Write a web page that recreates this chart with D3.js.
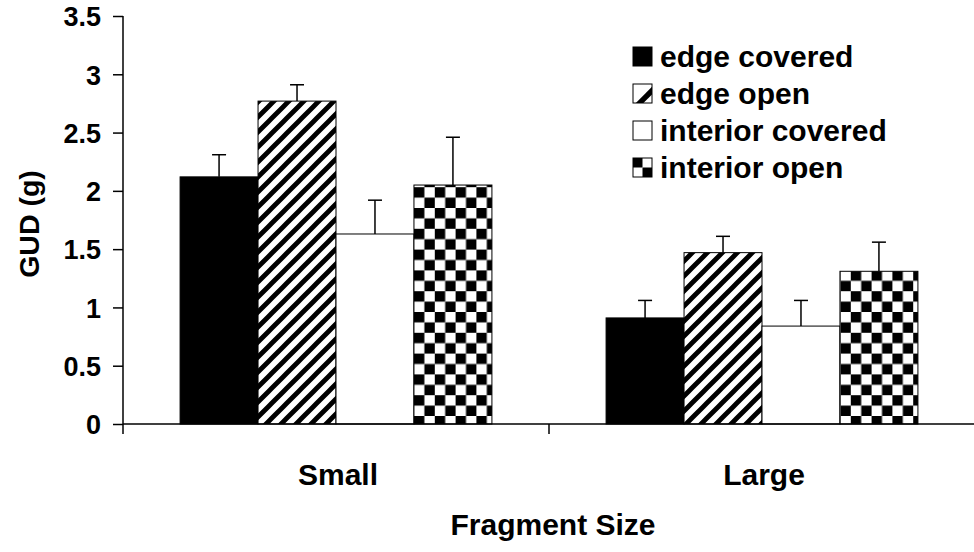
<!DOCTYPE html>
<html>
<head>
<meta charset="utf-8">
<script src="https://cdn.jsdelivr.net/npm/d3@7"></script>
<style>
  html, body { margin: 0; padding: 0; background: #fff; }
  svg { display: block; }
  text { font-family: "Liberation Sans", Arial, sans-serif; font-weight: bold; fill: #000; }
</style>
</head>
<body>
<svg id="chart" width="974" height="552"></svg>
<script>
// Giving-up density per fragment size and patch treatment
const categories = ["Small", "Large"];
const series = ["edge covered", "edge open", "interior covered", "interior open"];
const means = {
  "edge covered":     [2.12, 0.91],
  "edge open":        [2.77, 1.47],
  "interior covered": [1.63, 0.84],
  "interior open":    [2.05, 1.31]
};
const errors = {
  "edge covered":     [0.19, 0.15],
  "edge open":        [0.14, 0.14],
  "interior covered": [0.29, 0.22],
  "interior open":    [0.41, 0.25]
};
const yTicks = [0, 0.5, 1, 1.5, 2, 2.5, 3, 3.5];

const svg = d3.select("#chart");
const plotLeft = 123, plotRight = 975, plotTop = 16, plotBottom = 424;

const x0 = d3.scaleBand().domain(categories).range([plotLeft, plotRight])
  .paddingInner(0.268).paddingOuter(0.134);
const x1 = d3.scaleBand().domain(series).range([0, x0.bandwidth()]).padding(0);
const y = d3.scaleLinear().domain([0, 3.5]).range([plotBottom, plotTop]);

// Fill patterns
const defs = svg.append("defs");
const hatch = defs.append("pattern").attr("id", "hatch")
  .attr("patternUnits", "userSpaceOnUse").attr("width", 15).attr("height", 15);
hatch.append("rect").attr("width", 15).attr("height", 15).attr("fill", "#fff");
hatch.append("path").attr("d", "M-3.75,3.75 l7.5,-7.5 M0,15 l15,-15 M11.25,18.75 l7.5,-7.5")
  .attr("stroke", "#000").attr("stroke-width", 4.8);

const cell = 10.4;
const checker = defs.append("pattern").attr("id", "checker")
  .attr("patternUnits", "userSpaceOnUse").attr("width", cell * 2).attr("height", cell * 2)
  .attr("x", 414).attr("y", 0);
checker.append("rect").attr("width", cell * 2).attr("height", cell * 2).attr("fill", "#fff");
checker.append("rect").attr("width", cell).attr("height", cell).attr("fill", "#000");
checker.append("rect").attr("x", cell).attr("y", cell).attr("width", cell).attr("height", cell).attr("fill", "#000");

// Legend swatch patterns, scaled to the swatch box
const swHatch = defs.append("pattern").attr("id", "swHatch")
  .attr("patternUnits", "objectBoundingBox").attr("patternContentUnits", "objectBoundingBox")
  .attr("width", 1).attr("height", 1);
swHatch.append("rect").attr("width", 1).attr("height", 1).attr("fill", "#fff");
swHatch.append("path").attr("d", "M0.15,1 L1,0.15 L1,0.55 L0.55,1 Z").attr("fill", "#000");
const swCheck = defs.append("pattern").attr("id", "swCheck")
  .attr("patternUnits", "objectBoundingBox").attr("patternContentUnits", "objectBoundingBox")
  .attr("width", 1).attr("height", 1);
swCheck.append("rect").attr("width", 1).attr("height", 1).attr("fill", "#fff");
swCheck.append("rect").attr("width", 0.5).attr("height", 0.5).attr("fill", "#000");
swCheck.append("rect").attr("x", 0.5).attr("y", 0.5).attr("width", 0.5).attr("height", 0.5).attr("fill", "#000");

const barFill = {
  "edge covered": "#000",
  "edge open": "url(#hatch)",
  "interior covered": "#fff",
  "interior open": "url(#checker)"
};
const swatchFill = {
  "edge covered": "#000",
  "edge open": "url(#swHatch)",
  "interior covered": "#fff",
  "interior open": "url(#swCheck)"
};

// Bars
const rows = [];
categories.forEach((c, i) => series.forEach(s => rows.push({ c, s, v: means[s][i], e: errors[s][i] })));

const bars = svg.append("g");
bars.selectAll("rect").data(rows).join("rect")
  .attr("x", d => x0(d.c) + x1(d.s))
  .attr("y", d => y(d.v))
  .attr("width", x1.bandwidth())
  .attr("height", d => y(0) - y(d.v))
  .attr("fill", d => barFill[d.s])
  .attr("stroke", "#000").attr("stroke-width", 1);

// Upper error bars
const eb = svg.append("g").attr("stroke", "#000").attr("stroke-width", 1.5);
eb.selectAll("line.stem").data(rows).join("line").attr("class", "stem")
  .attr("x1", d => x0(d.c) + x1(d.s) + x1.bandwidth() / 2)
  .attr("x2", d => x0(d.c) + x1(d.s) + x1.bandwidth() / 2)
  .attr("y1", d => y(d.v)).attr("y2", d => y(d.v + d.e));
eb.selectAll("line.cap").data(rows).join("line").attr("class", "cap")
  .attr("x1", d => x0(d.c) + x1(d.s) + x1.bandwidth() / 2 - 7)
  .attr("x2", d => x0(d.c) + x1(d.s) + x1.bandwidth() / 2 + 7)
  .attr("y1", d => y(d.v + d.e)).attr("y2", d => y(d.v + d.e));

// Y axis
const yAxis = svg.append("g").attr("transform", `translate(${plotLeft},0)`)
  .call(d3.axisLeft(y).tickValues(yTicks).tickSize(10).tickPadding(12).tickFormat(d3.format("")));
yAxis.select(".domain").attr("stroke-width", 1.5).attr("d", `M0,${plotTop}H0V${plotBottom}`);
yAxis.selectAll(".tick line").attr("stroke-width", 1.5);
yAxis.selectAll(".tick text").attr("font-size", 27).attr("dy", "0.36em")
  .attr("font-family", "Liberation Sans, Arial, sans-serif").attr("font-weight", "bold");

// X axis: category boundaries marked with ticks
const xAxis = svg.append("g").attr("transform", `translate(0,${plotBottom})`);
xAxis.append("line").attr("x1", plotLeft).attr("x2", plotRight).attr("y1", 0).attr("y2", 0)
  .attr("stroke", "#000").attr("stroke-width", 1.5);
const bounds = [plotLeft, ...categories.slice(1).map(c => x0(c) - x0.step() * x0.paddingInner() / 2), plotRight];
xAxis.selectAll("line.bt").data(bounds).join("line").attr("class", "bt")
  .attr("x1", d => d).attr("x2", d => d).attr("y1", 0).attr("y2", 10)
  .attr("stroke", "#000").attr("stroke-width", 1.5);
xAxis.selectAll("text").data(categories).join("text")
  .attr("x", d => x0(d) + x0.bandwidth() / 2 + 2).attr("y", 61)
  .attr("text-anchor", "middle").attr("font-size", 30).text(d => d);

// Axis titles
svg.append("text").attr("x", 553).attr("y", 535).attr("text-anchor", "middle")
  .attr("font-size", 30).text("Fragment Size");
svg.append("text").attr("transform", "translate(39,224) rotate(-90)")
  .attr("text-anchor", "middle").attr("font-size", 28.5).text("GUD (g)");

// Legend
const legend = svg.append("g").attr("transform", "translate(633,47)");
const item = legend.selectAll("g").data(series).join("g")
  .attr("transform", (d, i) => `translate(0,${i * 37})`);
item.append("rect").attr("width", 19).attr("height", 19)
  .attr("fill", d => swatchFill[d]).attr("stroke", "#000").attr("stroke-width", 1);
item.append("text").attr("x", 27).attr("y", 19.5).attr("font-size", 30).text(d => d);
</script>
</body>
</html>
